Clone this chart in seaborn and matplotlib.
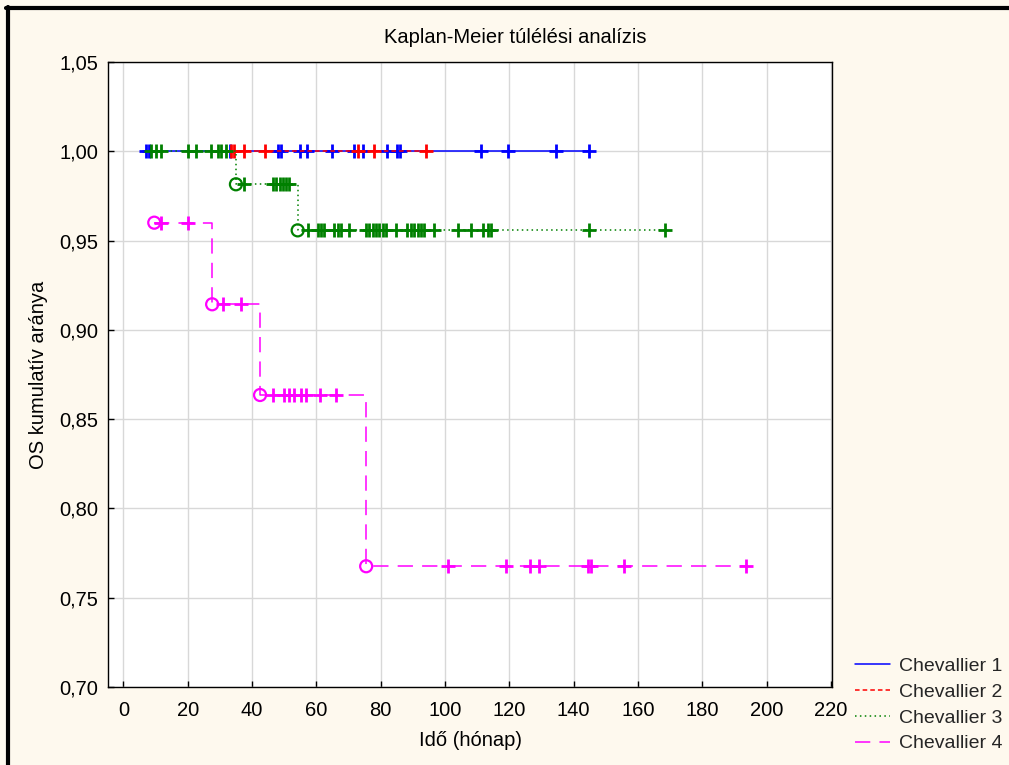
import numpy as np
import pandas as pd
import matplotlib
matplotlib.use("Agg")
import matplotlib.pyplot as plt
from matplotlib.lines import Line2D
from matplotlib.ticker import FuncFormatter
import seaborn as sns

# ---------------- data ----------------
groups = ["Chevallier 1", "Chevallier 2", "Chevallier 3", "Chevallier 4"]

# Chevallier 1: no events, all censored
g1_start = 7.0
g1_event_times = []
g1_event_surv = []
g1_censor = [7.0, 8.0, 33.0, 48.0, 49.0, 55.0, 57.0, 65.0, 71.8, 74.4, 82.0,
             85.0, 86.0, 111.3, 119.6, 134.6, 144.7]

# Chevallier 2: no events, all censored
g2_start = 33.5
g2_event_times = []
g2_event_surv = []
g2_censor = [33.5, 34.3, 37.6, 43.9, 72.9, 78.0, 94.1]

# Chevallier 3
g3_start = 8.6
g3_event_times = [35.0, 54.2]
g3_event_surv = [0.9815, 0.9557]
g3_censor = [8.6, 10.2, 11.7, 20.0, 22.6, 27.3, 29.3, 30.4, 31.9,
             37.6, 46.4, 47.6, 48.6, 49.7, 50.7, 51.6,
             57.3, 60.4, 61.5, 62.5, 65.6, 66.6, 67.7, 70.3, 75.5, 76.5, 77.6,
             78.6, 79.6, 80.7, 81.7, 84.8, 88.3, 89.4, 90.4, 91.5, 92.6, 93.6,
             96.7, 104.0, 108.1, 111.8, 113.3, 114.4, 144.9, 168.3]

# Chevallier 4
g4_start = 9.6
g4_event_times = [9.6, 27.6, 42.5, 75.5]
g4_event_surv = [0.9600, 0.9143, 0.8635, 0.7676]
g4_censor = [11.7, 20.0, 30.9, 36.6, 46.4, 50.1, 51.6, 53.2, 55.3, 56.8,
             61.0, 66.2, 100.9, 118.9, 126.3, 129.4, 144.4, 145.5, 155.8, 193.7]

x_ticks = list(range(0, 221, 20))
y_ticks = [0.70, 0.75, 0.80, 0.85, 0.90, 0.95, 1.00, 1.05]

colors = ["#0000FF", "#FF0000", "#008000", "#FF00FF"]
styles = ["-", (0, (3, 2)), (0, (1, 2.2)), (0, (10, 6))]

# ---------------- plotting ----------------
sns.set_theme(style="white")
plt.rcParams["font.family"] = ["Liberation Sans", "DejaVu Sans"]
FS = 14.5

fig = plt.figure(figsize=(10.09, 7.65), dpi=100)
fig.patch.set_facecolor("#FEF9EE")
ax = fig.add_axes([0.107, 0.102, 0.718, 0.817])
ax.set_facecolor("white")

data = [
    (g1_start, g1_event_times, g1_event_surv, g1_censor),
    (g2_start, g2_event_times, g2_event_surv, g2_censor),
    (g3_start, g3_event_times, g3_event_surv, g3_censor),
    (g4_start, g4_event_times, g4_event_surv, g4_censor),
]

def level_at(t, ev_t, ev_s):
    s = 1.0
    for et, es in zip(ev_t, ev_s):
        if t >= et:
            s = es
    return s

for i, (start, ev_t, ev_s, cens) in enumerate(data):
    end = max(cens + ev_t)
    s0 = level_at(start, ev_t, ev_s)
    xs = [start] + [t for t in ev_t if t > start] + [end]
    ys = [s0] + [s for t, s in zip(ev_t, ev_s) if t > start] + [ev_s[-1] if ev_s else 1.0]
    df_line = pd.DataFrame({"t": xs, "s": ys})
    sns.lineplot(data=df_line, x="t", y="s", ax=ax, color=colors[i],
                 linestyle=styles[i], linewidth=1.1, drawstyle="steps-post",
                 sort=False, estimator=None, zorder=3 + i)
    # censored marks
    df_c = pd.DataFrame({"t": cens, "s": [level_at(t, ev_t, ev_s) for t in cens]})
    sns.scatterplot(data=df_c, x="t", y="s", ax=ax, marker="+", s=110,
                    color=colors[i], linewidth=2.0, zorder=4 + i)
    # events (open circles)
    if ev_t:
        df_e = pd.DataFrame({"t": ev_t, "s": ev_s})
        sns.scatterplot(data=df_e, x="t", y="s", ax=ax, marker="o", s=75,
                        facecolor="none", edgecolor=colors[i], linewidth=1.6,
                        zorder=4 + i)

ax.set_xlim(-4.8, 220.5)
ax.set_ylim(0.70, 1.05)
ax.set_xticks(x_ticks)
ax.set_yticks(y_ticks)
ax.yaxis.set_major_formatter(FuncFormatter(lambda v, p: f"{v:.2f}".replace(".", ",")))
ax.grid(True, color="#D8D8D8", linewidth=1.0)
ax.set_axisbelow(True)
ax.tick_params(axis="both", direction="in", length=4, width=1, color="black",
               labelsize=FS, labelcolor="black", bottom=True, left=True)
ax.tick_params(axis="x", pad=10)
ax.tick_params(axis="y", pad=7)
for sp in ax.spines.values():
    sp.set_color("black")
    sp.set_linewidth(1.0)

ax.set_title("Kaplan-Meier túlélési analízis", fontsize=FS, color="black",
             pad=14, x=0.562)
ax.set_xlabel("Idő (hónap)", fontsize=FS, color="black", labelpad=8)
ax.set_ylabel("OS kumulatív aránya", fontsize=FS, color="black", labelpad=8)

handles = [Line2D([0], [0], color=colors[i], linestyle=styles[i], linewidth=1.1)
           for i in range(4)]
fig.legend(handles, groups, loc="lower left", bbox_to_anchor=(0.835, 0.0),
           frameon=False, fontsize=14, handlelength=1.8, handletextpad=0.45,
           labelspacing=0.42, borderaxespad=0.25)

# dark border lines at top and left of the figure
fig.add_artist(Line2D([0.006, 1.0], [0.9895, 0.9895], transform=fig.transFigure,
                      color="black", linewidth=3.0))
fig.add_artist(Line2D([0.0075, 0.0075], [0.0, 0.9915], transform=fig.transFigure,
                      color="black", linewidth=3.0))

fig.savefig("out.png", dpi=100, facecolor=fig.get_facecolor())
